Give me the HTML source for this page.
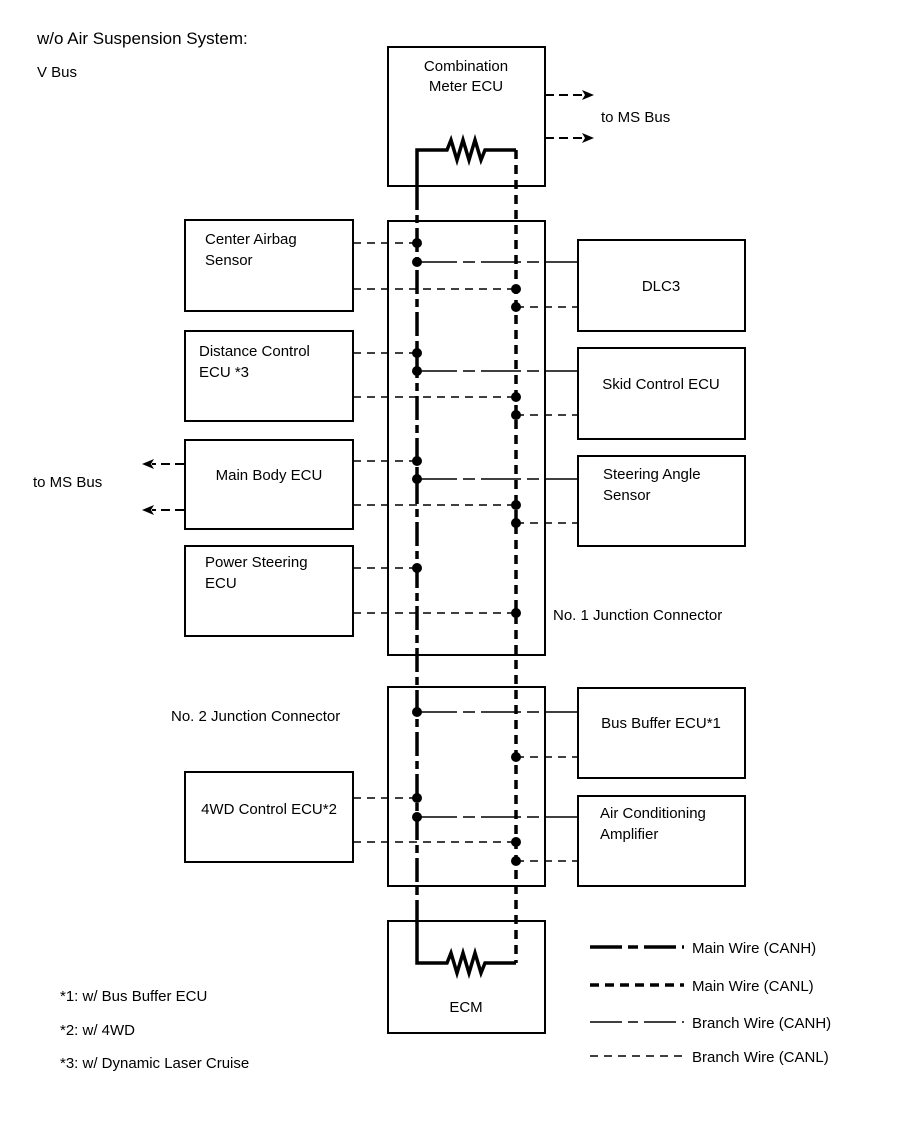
<!DOCTYPE html>
<html><head><style>
body{margin:0;background:#fff;}
svg{display:block;font-family:"Liberation Sans",Arial,sans-serif;font-size:15px;}
</style></head><body>
<svg width="907" height="1122" viewBox="0 0 907 1122">
<g fill="none" stroke="#000" stroke-width="2">
<rect x="388" y="47" width="157" height="139"/>
<rect x="388" y="221" width="157" height="434"/>
<rect x="388" y="687" width="157" height="199"/>
<rect x="388" y="921" width="157" height="112"/>
<rect x="185" y="220" width="168" height="91"/>
<rect x="185" y="331" width="168" height="90"/>
<rect x="185" y="440" width="168" height="89"/>
<rect x="185" y="546" width="168" height="90"/>
<rect x="185" y="772" width="168" height="90"/>
<rect x="578" y="240" width="167" height="91"/>
<rect x="578" y="348" width="167" height="91"/>
<rect x="578" y="456" width="167" height="90"/>
<rect x="578" y="688" width="167" height="90"/>
<rect x="578" y="796" width="167" height="90"/>
</g>
<g fill="none" stroke="#000" stroke-width="3.5">
<path d="M417,186 V150 H447 l4,-10 l6,20 l6,-20 l6,20 l6,-20 l6,20 l4,-10 H516"/>
<path d="M417,921 V963 H447 l4,-10 l6,20 l6,-20 l6,20 l6,-20 l6,20 l4,-10 H516"/>
<path d="M417,186 V921" stroke-dasharray="24,5,8,5"/>
<path d="M516,150 V963" stroke-dasharray="9,6"/>
</g>
<g fill="none" stroke="#000" stroke-width="1.6" stroke-dasharray="8,6">
<path d="M353,243 H417 M353,289 H516 M353,353 H417 M353,397 H516 M353,461 H417 M353,505 H516 M353,568 H417 M353,613 H516 M353,798 H417 M353,842 H516"/>
<path d="M516,307 H578 M516,415 H578 M516,523 H578 M516,757 H578 M516,861 H578"/>
<path d="M545,95 H584 M545,138 H584" stroke-width="2" stroke-dasharray="9,5"/>
<path d="M184,464 H152 M184,510 H152" stroke-width="2" stroke-dasharray="9,5"/>
</g>
<g fill="#000">
<path d="M594,95 L582,90 L585,95 L582,100 Z"/>
<path d="M594,138 L582,133 L585,138 L582,143 Z"/>
<path d="M142,464 L154,459 L151,464 L154,469 Z"/>
<path d="M142,510 L154,505 L151,510 L154,515 Z"/>
</g>
<g fill="none" stroke="#000" stroke-width="1.6" stroke-dasharray="40,6,12,6">
<path d="M417,262 H578 M417,371 H578 M417,479 H578 M417,712 H578 M417,817 H578"/>
</g>
<g fill="#000">
<circle cx="417" cy="243" r="5"/><circle cx="417" cy="262" r="5"/>
<circle cx="417" cy="353" r="5"/><circle cx="417" cy="371" r="5"/>
<circle cx="417" cy="461" r="5"/><circle cx="417" cy="479" r="5"/>
<circle cx="417" cy="568" r="5"/><circle cx="417" cy="712" r="5"/>
<circle cx="417" cy="798" r="5"/><circle cx="417" cy="817" r="5"/>
<circle cx="516" cy="289" r="5"/><circle cx="516" cy="307" r="5"/>
<circle cx="516" cy="397" r="5"/><circle cx="516" cy="415" r="5"/>
<circle cx="516" cy="505" r="5"/><circle cx="516" cy="523" r="5"/>
<circle cx="516" cy="613" r="5"/><circle cx="516" cy="757" r="5"/>
<circle cx="516" cy="842" r="5"/><circle cx="516" cy="861" r="5"/>
</g>
<g fill="none" stroke="#000">
<path d="M590,947 H684" stroke-width="3.5" stroke-dasharray="32,6,10,6"/>
<path d="M590,985 H684" stroke-width="3.5" stroke-dasharray="9,6"/>
<path d="M590,1022 H684" stroke-width="1.6" stroke-dasharray="32,6,10,6"/>
<path d="M590,1056 H684" stroke-width="1.6" stroke-dasharray="8,6"/>
</g>
<g fill="#000">
<text x="37" y="44" font-size="17">w/o Air Suspension System:</text>
<text x="37" y="77">V Bus</text>
<text x="466" y="71" text-anchor="middle">Combination</text>
<text x="466" y="91" text-anchor="middle">Meter ECU</text>
<text x="601" y="122">to MS Bus</text>
<text x="33" y="487">to MS Bus</text>
<text x="205" y="244">Center Airbag</text>
<text x="205" y="265">Sensor</text>
<text x="199" y="356">Distance Control</text>
<text x="199" y="377">ECU *3</text>
<text x="269" y="480" text-anchor="middle">Main Body ECU</text>
<text x="205" y="567">Power Steering</text>
<text x="205" y="588">ECU</text>
<text x="269" y="814" text-anchor="middle">4WD Control ECU*2</text>
<text x="661" y="291" text-anchor="middle">DLC3</text>
<text x="661" y="389" text-anchor="middle">Skid Control ECU</text>
<text x="603" y="479">Steering Angle</text>
<text x="603" y="500">Sensor</text>
<text x="553" y="620">No. 1 Junction Connector</text>
<text x="171" y="721">No. 2 Junction Connector</text>
<text x="661" y="728" text-anchor="middle">Bus Buffer ECU*1</text>
<text x="600" y="818">Air Conditioning</text>
<text x="600" y="839">Amplifier</text>
<text x="466" y="1012" text-anchor="middle">ECM</text>
<text x="60" y="1001">*1: w/ Bus Buffer ECU</text>
<text x="60" y="1035">*2: w/ 4WD</text>
<text x="60" y="1068">*3: w/ Dynamic Laser Cruise</text>
<text x="692" y="953">Main Wire (CANH)</text>
<text x="692" y="991">Main Wire (CANL)</text>
<text x="692" y="1028">Branch Wire (CANH)</text>
<text x="692" y="1062">Branch Wire (CANL)</text>
</g>
</svg>
</body></html>
